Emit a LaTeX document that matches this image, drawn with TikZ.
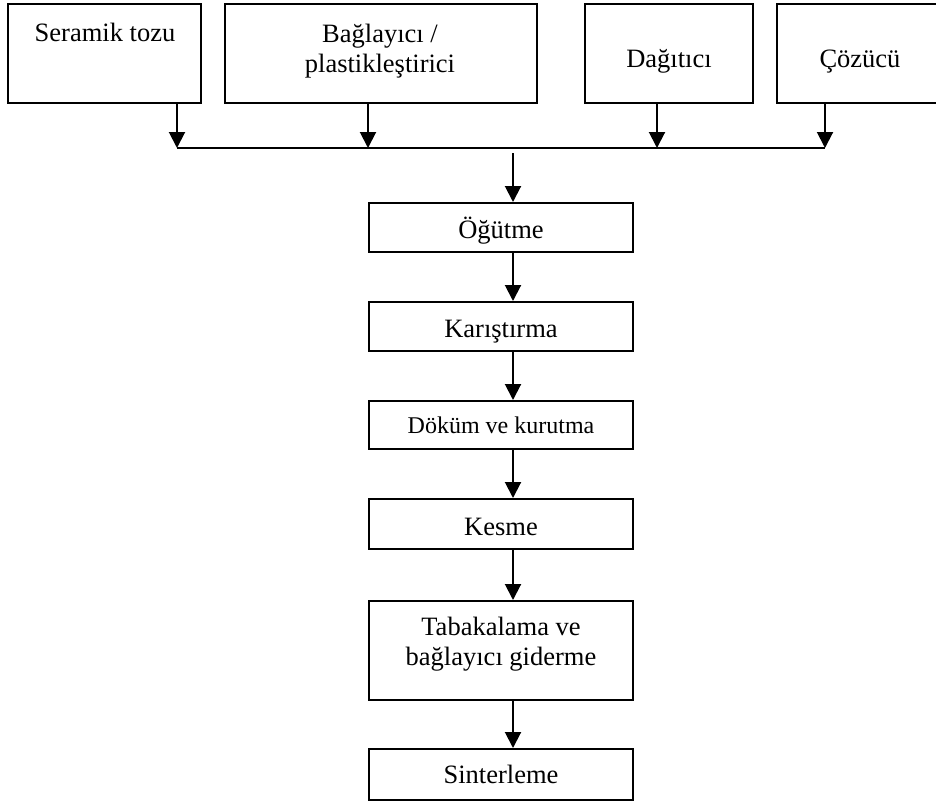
\documentclass[tikz,border=0pt]{standalone}
\usepackage{fontspec}
\setmainfont{Liberation Serif}
\usetikzlibrary{arrows.meta}
\begin{document}
\begin{tikzpicture}[x=1pt,y=-1pt,
  box/.style={draw,line width=2pt,inner sep=0pt,rectangle},
  lbl/.style={font=\fontsize{26.5}{30}\selectfont,inner sep=0pt,anchor=base,align=center},
  lbls/.style={font=\fontsize{24}{29}\selectfont,inner sep=0pt,anchor=base},
  arr/.style={line width=2pt,-{Triangle[width=16pt,length=16pt]}},
  ln/.style={line width=2pt}]
\useasboundingbox (0,0) rectangle (936,803);
% top boxes
\node[box,minimum width=193pt,minimum height=99pt] (ser) at (104.5,53.5) {};
\node[box,minimum width=312pt,minimum height=99pt] (bag) at (381,53.5) {};
\node[box,minimum width=168pt,minimum height=99pt] (dag) at (669,53.5) {};
\node[box,minimum width=166pt,minimum height=99pt] (coz) at (860,53.5) {};
\node[lbl] (tser) at (105,41) {Seramik tozu};
\node[lbl] (tbag) at (380,72) {Bağlayıcı /\\plastikleştirici};
\node[lbl] (tdag) at (669,67) {Dağıtıcı};
\node[lbl] (tcoz) at (860,67) {Çözücü};
% bus
\coordinate (b0) at (177,148);
\coordinate (b1) at (368,148);
\coordinate (b2) at (657,148);
\coordinate (b3) at (825,148);
\coordinate (bc) at (513,153);
\draw[ln] (b0) -- (b3);
\draw[arr] (ser.south -| b0) -- (b0);
\draw[arr] (bag.south -| b1) -- (b1);
\draw[arr] (dag.south -| b2) -- (b2);
\draw[arr] (coz.south -| b3) -- (b3);
% column
\node[box,minimum width=264pt,minimum height=49pt] (ogu) at (501,227.5) {};
\node[box,minimum width=264pt,minimum height=49pt] (kar) at (501,326.5) {};
\node[box,minimum width=264pt,minimum height=48pt] (dok) at (501,425) {};
\node[box,minimum width=264pt,minimum height=50pt] (kes) at (501,524) {};
\node[box,minimum width=264pt,minimum height=99pt] (tab) at (501,650.5) {};
\node[box,minimum width=264pt,minimum height=51pt] (sin) at (501,774.5) {};
\node[lbl] (togu) at (501,238) {Öğütme};
\node[lbl] (tkar) at (501,337) {Karıştırma};
\node[lbls] (tdok) at (501,433) {Döküm ve kurutma};
\node[lbl] (tkes) at (501,535) {Kesme};
\node[lbl] (ttab) at (501,665) {Tabakalama ve\\bağlayıcı giderme};
\node[lbl] (tsin) at (501,783) {Sinterleme};
\draw[arr] (bc) -- (ogu.north -| bc);
\draw[arr] (ogu.south -| bc) -- (kar.north -| bc);
\draw[arr] (kar.south -| bc) -- (dok.north -| bc);
\draw[arr] (dok.south -| bc) -- (kes.north -| bc);
\draw[arr] (kes.south -| bc) -- (tab.north -| bc);
\draw[arr] (tab.south -| bc) -- (sin.north -| bc);
\end{tikzpicture}
\end{document}
